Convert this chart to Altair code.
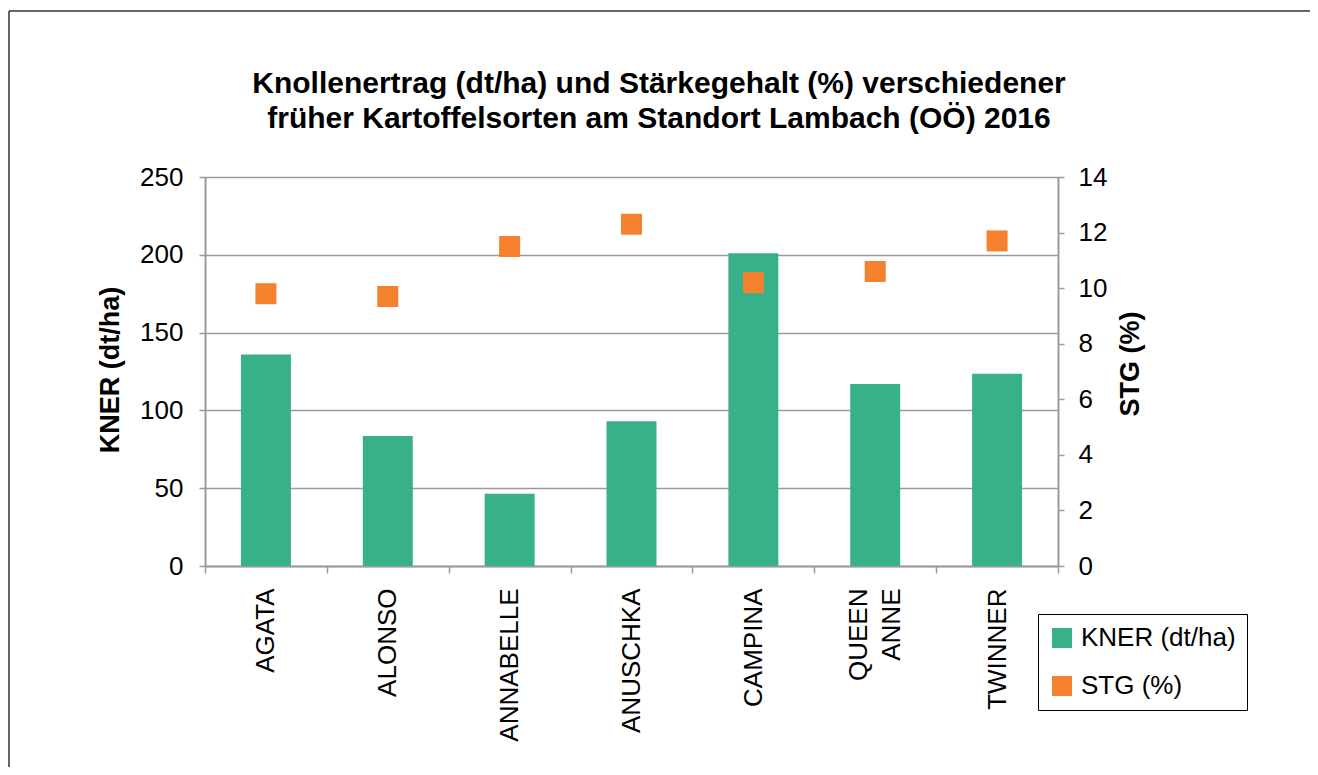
import altair as alt
import pandas as pd

# ---- data ----
sorten = ["AGATA", "ALONSO", "ANNABELLE", "ANUSCHKA", "CAMPINA", "QUEEN ANNE", "TWINNER"]
kner = [136, 83.5, 46.5, 93, 201, 117, 123.5]
stg = [9.8, 9.7, 11.5, 12.3, 10.2, 10.6, 11.7]
series = ["KNER (dt/ha)", "STG (%)"]
colors = ["#38b089", "#f5802e"]
kner_ticks = [0, 50, 100, 150, 200, 250]
stg_ticks = [0, 2, 4, 6, 8, 10, 12, 14]
title_lines = [
    "Knollenertrag (dt/ha) und Stärkegehalt (%) verschiedener",
    "früher Kartoffelsorten am Standort Lambach (OÖ) 2016",
]

df = pd.DataFrame({"sorte": sorten, "kner": kner, "stg": stg})

FONT = "Liberation Sans"
GRAY = "#9a9b9f"
W, H = 853, 389

color_scale = alt.Scale(domain=series, range=colors)
legend = alt.Legend(
    title=None, orient="none", legendX=833, legendY=437,
    symbolType="square", symbolSize=400, symbolStrokeWidth=0,
    labelFontSize=26, labelFont=FONT, labelColor="black", labelOffset=6,
    strokeColor="black", padding=11, rowPadding=22,
    fillColor="white", labelLimit=0,
)

x_enc = alt.X(
    "sorte:N", sort=sorten, title=None,
    scale=alt.Scale(paddingInner=0, paddingOuter=0),
    axis=alt.Axis(
        labelAngle=270, labelAlign="right", labelBaseline="middle",
        labelFontSize=26, labelFont=FONT, labelColor="black", labelPadding=15,
        labelLineHeight=33, labelLimit=0,
        labelExpr="datum.label == 'QUEEN ANNE' ? ['QUEEN', 'ANNE'] : datum.label",
        labelOffset={"condition": {"test": "datum.label == 'QUEEN ANNE'", "value": -17}, "value": 0},
        tickSize=7, tickBand="extent", tickColor=GRAY, tickWidth=1.5,
        domainColor=GRAY, domainWidth=2, grid=False,
    ),
)

bars = alt.Chart(df).transform_calculate(
    series=f"'{series[0]}'"
).mark_bar(width=alt.RelativeBandSize(0.41)).encode(
    x=x_enc,
    y=alt.Y(
        "kner:Q",
        scale=alt.Scale(domain=[0, 250], nice=False),
        axis=alt.Axis(
            orient="left", values=kner_ticks, title=series[0],
            titleFont=FONT, titleFontSize=27, titleFontWeight="bold", titleColor="black",
            titleAngle=270, titleBaseline="middle", titleX=-95, titleY=H / 2 - 2,
            labelFont=FONT, labelFontSize=26, labelColor="black", labelPadding=16,
            tickSize=6, tickColor=GRAY, tickWidth=1.5,
            domainColor=GRAY, domainWidth=2,
            grid=True, gridColor=GRAY, gridWidth=1.5,
        ),
    ),
    color=alt.Color("series:N", scale=color_scale, legend=legend),
)

points = alt.Chart(df).transform_calculate(
    series=f"'{series[1]}'"
).mark_point(shape="square", filled=True, size=441, opacity=1, strokeWidth=0).encode(
    x=x_enc,
    y=alt.Y(
        "stg:Q",
        scale=alt.Scale(domain=[0, 14], nice=False),
        axis=alt.Axis(
            orient="right", values=stg_ticks, title=series[1],
            titleFont=FONT, titleFontSize=27, titleFontWeight="bold", titleColor="black",
            titleAngle=270, titleBaseline="middle", titleX=72, titleY=H / 2 - 8,
            labelFont=FONT, labelFontSize=26, labelColor="black", labelPadding=14,
            tickSize=6, tickColor=GRAY, tickWidth=1.5,
            domainColor=GRAY, domainWidth=2, grid=False,
        ),
    ),
    color=alt.Color("series:N", scale=color_scale, legend=legend),
)

one = alt.Data(values=[{"f": 1}])
frame_left = alt.Chart(one).mark_rule(color="#333333", strokeWidth=1.5).encode(
    x=alt.value(-196), y=alt.value(-166), y2=alt.value(700)
)
frame_top = alt.Chart(one).mark_rule(color="#333333", strokeWidth=1.5).encode(
    x=alt.value(-196), x2=alt.value(1200), y=alt.value(-166)
)
title = alt.Chart(one).mark_text(
    font=FONT, fontSize=30, fontWeight="bold", color="black",
    align="center", baseline="top", lineHeight=35,
).encode(
    x=alt.value(454), y=alt.value(-108), text=alt.value(title_lines)
)

chart = alt.layer(frame_left, frame_top, title, bars, points).resolve_scale(
    y="independent"
).properties(
    width=W, height=H,
    autosize=alt.AutoSizeParams(type="none"),
    padding={"left": 197, "top": 169, "right": 252, "bottom": 201},
).configure_view(
    stroke=GRAY, strokeWidth=1.5
).configure_legend(
    strokeWidth=2
).configure(background="white")

chart.save("out.html", embed_options={"renderer": "svg", "actions": False})
